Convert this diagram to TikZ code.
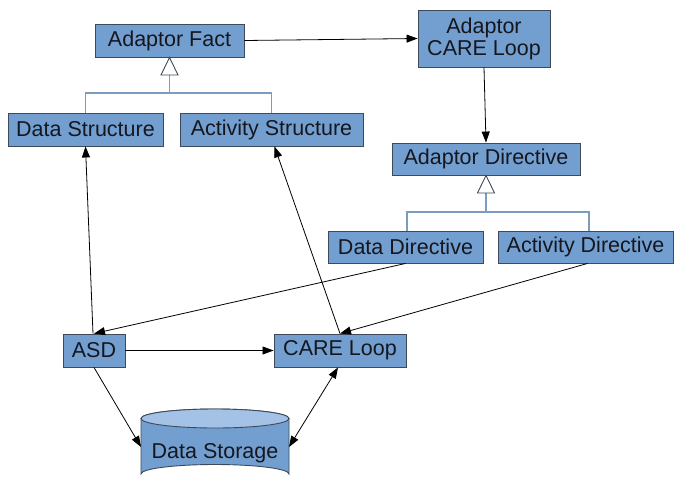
\documentclass[tikz,border=0pt]{standalone}
\usepackage{fontspec}
\setmainfont{Liberation Sans}
\usetikzlibrary{arrows.meta,positioning}
\definecolor{boxfill}{HTML}{729FCF}
\definecolor{boxdraw}{HTML}{3C4A5C}
\definecolor{inhline}{HTML}{7C9CBF}
\definecolor{cyltop}{HTML}{A4C1E6}
\definecolor{txt}{HTML}{16161E}
\tikzset{
  box/.style={draw=boxdraw, fill=boxfill, line width=0.9pt, rectangle, inner sep=0pt,
    text=txt, font=\fontsize{21.5}{24}\selectfont, align=center},
  conn/.style={line width=0.8pt, draw=black, -{Triangle[length=11pt,width=8pt]}},
  inh/.style={line width=1.2pt, draw=inhline},
  tri/.style={line width=0.9pt, draw=boxdraw, fill=white}
}
\begin{document}
\begin{tikzpicture}[x=1pt,y=-1pt]
\useasboundingbox (0,0) rectangle (674,485);
\node[box, minimum width=149, minimum height=33] (fact) at (169.5,40.5) {Adaptor Fact};
\node[box, minimum width=132, minimum height=57] (acl) at (484,38.5) {Adaptor\\[-2pt]CARE Loop};
\node[box, minimum width=155, minimum height=33] (dstruct) at (85.5,129.5) {Data Structure};
\node[box, minimum width=183, minimum height=33] (astruct) at (271.5,129.5) {Activity Structure};
\node[box, minimum width=188, minimum height=32] (adir) at (486,159) {Adaptor Directive};
\node[box, minimum width=155, minimum height=32] (ddir) at (405.5,247) {Data Directive};
\node[box, minimum width=175, minimum height=32] (actdir) at (585.5,247) {Activity Directive};
\node[box, minimum width=62, minimum height=33] (asd) at (94,350.5) {ASD};
\node[box, minimum width=132, minimum height=33] (care) at (340,350.5) {CARE Loop};
% cylinder
\path[fill=boxfill, draw=boxdraw, line width=0.9pt]
  (141,418.5) -- (141,474) arc[start angle=180, end angle=360, x radius=74, y radius=9.5]
  -- (289,418.5) arc[start angle=0, end angle=-180, x radius=74, y radius=9.5] -- cycle;
\path[fill=cyltop, draw=boxdraw, line width=0.9pt] (215,418.5) ellipse[x radius=74, y radius=9.5];
\node[text=txt, font=\fontsize{21.5}{24}\selectfont, inner sep=0pt] (store) at (215,453) {Data Storage};
\coordinate (storeL) at (141,447);
\coordinate (storeR) at (289,447);
% inheritance trees
\coordinate (j1) at (169.5,93);
\draw[inh] (dstruct.north) |- (j1) -| (astruct.north);
\draw[inh] (j1) -- (169.5,74);
\draw[tri] (fact.south) -- ++(-8.5,17.5) -- ++(17,0) -- cycle;
\coordinate (j2) at (486,212);
\draw[inh] ([xshift=1.5]ddir.north) |- (j2) -| ([xshift=3.5]actdir.north);
\draw[inh] (j2) -- (486,193);
\draw[tri] (adir.south) -- ++(-8.5,17.5) -- ++(17,0) -- cycle;
% connectors
\draw[conn] (fact.east) -- (acl.west);
\draw[conn] (acl.south) -- (adir.north);
\draw[conn] ([xshift=-1]asd.north) -- (dstruct.south);
\draw[conn] (care.north) -- ([xshift=3]astruct.south);
\draw[conn] (ddir.south) -- (asd.north);
\draw[conn] ([xshift=2]actdir.south) -- (care.north);
\draw[conn] (asd.east) -- (care.west);
\draw[conn] (asd.south) -- (storeL);
\draw[conn, {Triangle[length=11pt,width=8pt]}-{Triangle[length=11pt,width=8pt]}] ([xshift=-2]care.south) -- (storeR);
\end{tikzpicture}
\end{document}
